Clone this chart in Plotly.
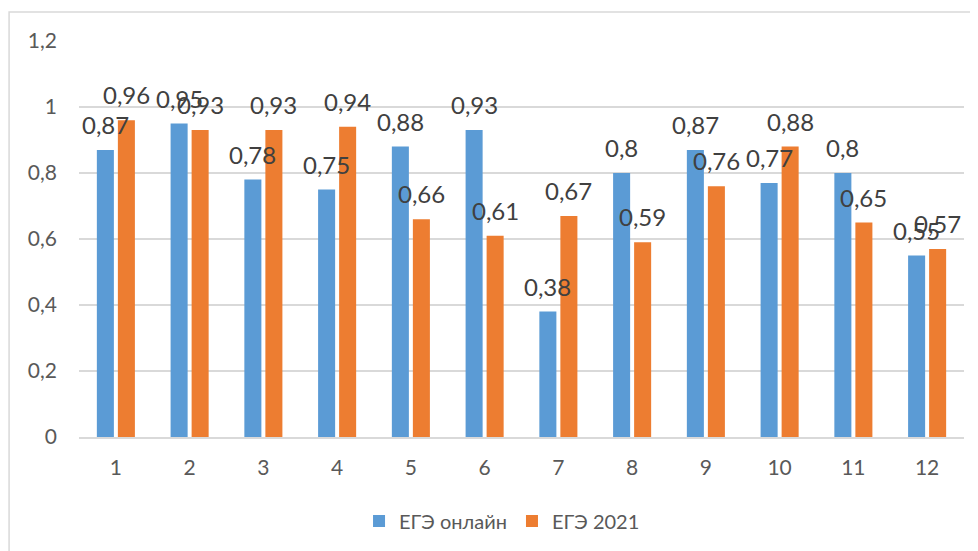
import plotly.graph_objects as go

categories = [1, 2, 3, 4, 5, 6, 7, 8, 9, 10, 11, 12]
ege_online = [0.87, 0.95, 0.78, 0.75, 0.88, 0.93, 0.38, 0.80, 0.87, 0.77, 0.80, 0.55]
ege_2021 = [0.96, 0.93, 0.93, 0.94, 0.66, 0.61, 0.67, 0.59, 0.76, 0.88, 0.65, 0.57]
series_names = ["ЕГЭ онлайн", "ЕГЭ 2021"]
y_ticks = [0, 0.2, 0.4, 0.6, 0.8, 1.0, 1.2]

BLUE = "#5B9BD5"
ORANGE = "#ED7D31"
FONT = "Lato"


def fmt(v):
    s = ("%.2f" % v).rstrip("0").rstrip(".")
    return s.replace(".", ",")


fig = go.Figure()
fig.add_trace(go.Bar(x=categories, y=ege_online, name=series_names[0],
                     marker=dict(color=BLUE, line=dict(width=0))))
fig.add_trace(go.Bar(x=categories, y=ege_2021, name=series_names[1],
                     marker=dict(color=ORANGE, line=dict(width=0))))

annotations = []
for series, shift in ((ege_online, -10.5), (ege_2021, 10.5)):
    for c, v in zip(categories, series):
        annotations.append(dict(x=c, y=v, xref="x", yref="y", text=fmt(v),
                                showarrow=False, xshift=shift, yshift=9,
                                yanchor="bottom", xanchor="center",
                                font=dict(family=FONT, size=24, color="#404040")))

fig.update_layout(
    width=978, height=551,
    margin=dict(l=71, r=22, t=33, b=122),
    paper_bgcolor="white", plot_bgcolor="white",
    separators=", ",
    barmode="group", bargap=0.43, bargroupgap=0.19,
    font=dict(family=FONT, color="#595959"),
    showlegend=True,
    legend=dict(orientation="h", x=0.478, xanchor="center", y=-0.212, yanchor="middle",
                font=dict(family=FONT, size=20, color="#595959"),
                itemwidth=30, tracegroupgap=0),
    annotations=annotations,
    shapes=[dict(type="rect", xref="paper", yref="paper",
                 x0=-0.079, x1=1.2, y0=-0.6, y1=1.0732,
                 line=dict(color="#D9D9D9", width=1.5), layer="below")],
)
fig.update_xaxes(range=[0.5, 12.5], tickvals=categories, showgrid=False, zeroline=False,
                 showline=True, linecolor="#D9D9D9",
                 linewidth=1.5, ticks="", tickfont=dict(family=FONT, size=21, color="#595959"),
                 ticklabelstandoff=11)
fig.update_yaxes(range=[0, 1.2], tickvals=y_ticks, showgrid=True, gridcolor="#D9D9D9",
                 gridwidth=1.5, zeroline=False, showline=False, ticks="",
                 tickfont=dict(family=FONT, size=21, color="#595959"),
                 ticklabelstandoff=21)

fig.write_html("out.html")
